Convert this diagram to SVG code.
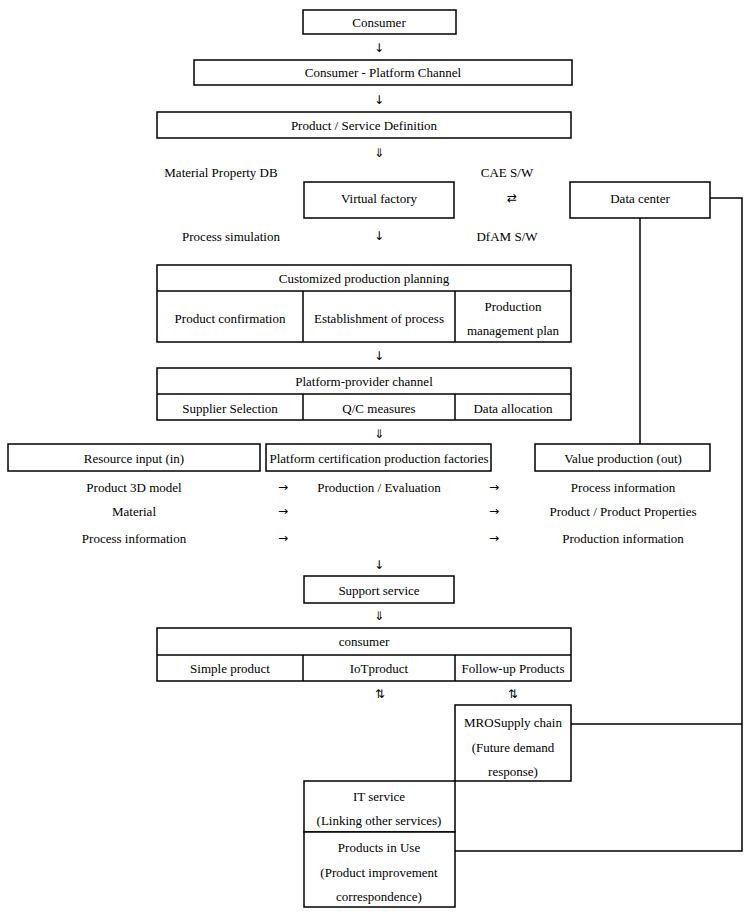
<svg xmlns="http://www.w3.org/2000/svg" width="756" height="922" viewBox="0 0 756 922">
<style>
.b{fill:#fff;stroke:#000;stroke-width:1.5}
.l{fill:none;stroke:#000;stroke-width:1.5}
text{font-family:"Liberation Serif","Times New Roman",serif;font-size:13px;fill:#000;text-anchor:middle;dominant-baseline:central}
.a{font-family:"DejaVu Sans","Liberation Sans",sans-serif;font-size:12px;fill:#000}
</style>
<rect width="756" height="922" fill="#fff"/>
<g id="connectors">
<polyline class="l" points="710,198 742,198 742,851 455,851"/>
<line class="l" x1="571" y1="724" x2="742" y2="724"/>
<line class="l" x1="640" y1="218" x2="640" y2="444"/>
<text class="a" x="379" y="48">↓</text>
<text class="a" x="379" y="100">↓</text>
<text class="a" x="379" y="153">⇓</text>
<text class="a" x="512" y="198">⇄</text>
<text class="a" x="379" y="236">↓</text>
<text class="a" x="379" y="356">↓</text>
<text class="a" x="379" y="434">⇓</text>
<text class="a" x="283" y="487">→</text>
<text class="a" x="494" y="487">→</text>
<text class="a" x="283" y="511">→</text>
<text class="a" x="494" y="511">→</text>
<text class="a" x="283" y="538">→</text>
<text class="a" x="494" y="538">→</text>
<text class="a" x="379" y="565">↓</text>
<text class="a" x="379" y="616">⇓</text>
<text class="a" x="380" y="694">⇅</text>
<text class="a" x="513" y="694">⇅</text>
</g>
<g id="consumer-top"><rect class="b" x="303" y="10" width="153" height="24"/><text x="379" y="22">Consumer</text></g>
<g id="consumer-platform"><rect class="b" x="194" y="60" width="378" height="25"/><text x="383" y="72">Consumer - Platform Channel</text></g>
<g id="product-service"><rect class="b" x="157" y="112" width="414" height="26"/><text x="364" y="125">Product / Service Definition</text></g>
<g id="labels-vf">
<text x="221" y="172">Material Property DB</text>
<text x="507" y="172">CAE S/W</text>
<text x="231" y="236">Process simulation</text>
<text x="507" y="236">DfAM S/W</text>
</g>
<g id="virtual-factory"><rect class="b" x="304" y="182" width="150" height="36"/><text x="379" y="198">Virtual factory</text></g>
<g id="data-center"><rect class="b" x="570" y="182" width="140" height="36"/><text x="640" y="198">Data center</text></g>
<g id="customized-planning">
<rect class="b" x="157" y="265" width="414" height="77"/>
<line class="l" x1="157" y1="291" x2="571" y2="291"/>
<line class="l" x1="303" y1="291" x2="303" y2="342"/>
<line class="l" x1="455" y1="291" x2="455" y2="342"/>
<text x="364" y="278">Customized production planning</text>
<text x="230" y="318">Product confirmation</text>
<text x="379" y="318">Establishment of process</text>
<text x="513" y="306">Production</text>
<text x="513" y="330">management plan</text>
</g>
<g id="platform-provider">
<rect class="b" x="157" y="368" width="414" height="52"/>
<line class="l" x1="157" y1="394" x2="571" y2="394"/>
<line class="l" x1="303" y1="394" x2="303" y2="420"/>
<line class="l" x1="455" y1="394" x2="455" y2="420"/>
<text x="364" y="381">Platform-provider channel</text>
<text x="230" y="408">Supplier Selection</text>
<text x="379" y="408">Q/C measures</text>
<text x="513" y="408">Data allocation</text>
</g>
<g id="resource-input"><rect class="b" x="8" y="444" width="252" height="27"/><text x="134" y="458">Resource input (in)</text></g>
<g id="platform-cert"><rect class="b" x="266" y="444" width="225" height="27"/><text x="379" y="458">Platform certification production factories</text></g>
<g id="value-production"><rect class="b" x="535" y="444" width="175" height="27"/><text x="623" y="458">Value production (out)</text></g>
<g id="io-rows">
<text x="134" y="487">Product 3D model</text>
<text x="379" y="487">Production / Evaluation</text>
<text x="623" y="487">Process information</text>
<text x="134" y="511">Material</text>
<text x="623" y="511">Product / Product Properties</text>
<text x="134" y="538">Process information</text>
<text x="623" y="538">Production information</text>
</g>
<g id="support-service"><rect class="b" x="304" y="576" width="150" height="27"/><text x="379" y="590">Support service</text></g>
<g id="consumer-table">
<rect class="b" x="157" y="628" width="414" height="53"/>
<line class="l" x1="157" y1="655" x2="571" y2="655"/>
<line class="l" x1="303" y1="655" x2="303" y2="681"/>
<line class="l" x1="455" y1="655" x2="455" y2="681"/>
<text x="364" y="641">consumer</text>
<text x="230" y="668">Simple product</text>
<text x="379" y="668">IoTproduct</text>
<text x="513" y="668">Follow-up Products</text>
</g>
<g id="mro"><rect class="b" x="455" y="705" width="116" height="76"/>
<text x="513" y="722">MROSupply chain</text><text x="513" y="747">(Future demand</text><text x="513" y="771">response)</text></g>
<g id="it-service"><rect class="b" x="304" y="781" width="151" height="51"/>
<text x="379" y="796">IT service</text><text x="379" y="820">(Linking other services)</text></g>
<g id="products-in-use"><rect class="b" x="304" y="832" width="151" height="75"/>
<text x="379" y="847">Products in Use</text><text x="379" y="872">(Product improvement</text><text x="379" y="896">correspondence)</text></g>
</svg>
